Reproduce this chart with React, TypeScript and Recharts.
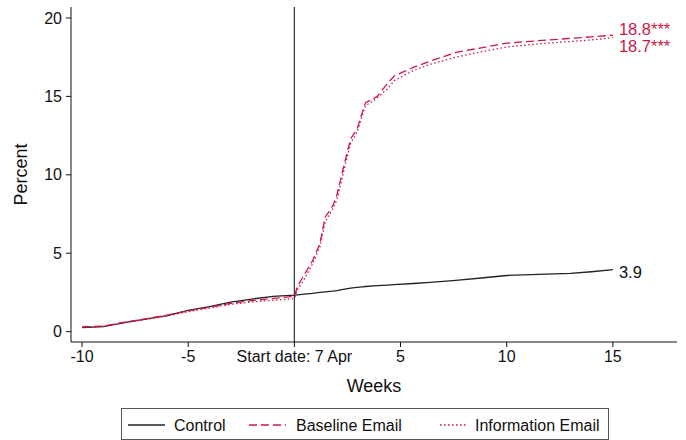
import { LineChart, Line, XAxis, YAxis, ReferenceLine } from "recharts";

const weeks = [
  -10, -9, -8, -7, -6, -5, -4, -3, -2, -1, 0, 0.15, 0.45, 0.85, 1.2, 1.45, 1.8, 2.0, 2.25, 2.5,
  2.65, 2.95, 3.2, 3.35, 3.9, 4.4, 4.7, 5.6, 6.4, 7.6, 8.8, 10, 11.5, 13, 14, 15,
];
const control = [
  0.26, 0.32, 0.57, 0.8, 1.02, 1.35, 1.6, 1.88, 2.08, 2.25, 2.33, 2.35, 2.39, 2.44, 2.5, 2.53,
  2.58, 2.62, 2.68, 2.74, 2.77, 2.82, 2.86, 2.88, 2.93, 2.97, 3.0, 3.07, 3.14, 3.27, 3.42, 3.58,
  3.65, 3.72, 3.82, 3.95,
];
const baselineEmail = [
  0.3, 0.35, 0.6, 0.82, 1.05, 1.32, 1.56, 1.8, 1.98, 2.12, 2.25, 2.9, 3.6, 4.5, 5.6, 7.3, 8.0,
  8.7, 10.1, 11.5, 12.3, 12.9, 14.0, 14.6, 15.0, 15.85, 16.3, 16.85, 17.25, 17.8, 18.1, 18.4,
  18.55, 18.7, 18.8, 18.9,
];
const informationEmail = [
  0.28, 0.33, 0.58, 0.78, 1.0, 1.27, 1.5, 1.74, 1.9, 2.0, 2.1, 2.7, 3.3, 4.3, 5.4, 7.0, 7.8, 8.4,
  9.8, 11.2, 12.0, 12.7, 13.8, 14.4, 14.9, 15.5, 16.0, 16.65, 17.05, 17.5, 17.85, 18.15, 18.35,
  18.5, 18.6, 18.75,
];
const xTicks = [-10, -5, 0, 5, 10, 15];
const yTicks = [0, 5, 10, 15, 20];
const endLabels = { control: "3.9", baseline: "18.8***", info: "18.7***" };

const data = weeks.map((w, i) => ({
  week: w,
  control: control[i],
  baseline: baselineEmail[i],
  info: informationEmail[i],
}));

const RED = "#cc1744";
const FONT = "'Liberation Sans', Arial, Helvetica, sans-serif";

// only the last point gets a value label
function endLabel(text: string, color: string, dy: number) {
  return (props: any) => {
    if (props.index !== data.length - 1) return null;
    return (
      <text
        x={props.x + 6}
        y={props.y + dy}
        fill={color}
        fontSize={16.5}
        fontFamily={FONT}
        dominantBaseline="central"
      >
        {text}
      </text>
    );
  };
}

function Legend() {
  const items = [
    { name: "Control", color: "#222", dash: undefined, x1: 128, x2: 165, tx: 174 },
    { name: "Baseline Email", color: RED, dash: "8 4", x1: 249, x2: 286, tx: 296 },
    { name: "Information Email", color: RED, dash: "1.5 2.5", x1: 440, x2: 468, tx: 475 },
  ];
  return (
    <svg
      width={686}
      height={40}
      style={{ position: "absolute", left: 0, top: 402 }}
    >
      <rect x={121.5} y={6.5} width={487} height={31} fill="#fff" stroke="#555" />
      {items.map((it) => (
        <g key={it.name}>
          <line
            x1={it.x1}
            x2={it.x2}
            y1={23}
            y2={23}
            stroke={it.color}
            strokeWidth={1.3}
            strokeDasharray={it.dash}
          />
          <text
            x={it.tx}
            y={23}
            fontSize={16}
            fontFamily={FONT}
            fill="#111"
            dominantBaseline="central"
          >
            {it.name}
          </text>
        </g>
      ))}
    </svg>
  );
}

export default function App() {
  const tickStyle = { fontSize: 16, fontFamily: FONT, fill: "#111" };
  return (
    <div style={{ position: "absolute", left: 0, top: 0, width: 686, height: 440, background: "#fff" }}>
      <LineChart
        width={686}
        height={440}
        data={data}
        margin={{ top: 7, right: 9, left: 0, bottom: 48 }}
      >
        <XAxis
          dataKey="week"
          type="number"
          domain={[-10.52, 18.02]}
          ticks={xTicks}
          tickFormatter={(v: number) => (v === 0 ? "Start date: 7 Apr" : String(v))}
          tick={tickStyle}
          tickSize={5}
          tickMargin={4}
          height={50}
          stroke="#111"
          allowDataOverflow
          label={{
            value: "Weeks",
            position: "insideBottom",
            offset: 0,
            style: { fontSize: 18, fontFamily: FONT, fill: "#111" },
          }}
        />
        <YAxis
          type="number"
          domain={[-0.66, 20.7]}
          ticks={yTicks}
          tick={tickStyle}
          tickSize={5}
          tickMargin={4}
          width={71}
          stroke="#111"
          allowDataOverflow
          label={{
            value: "Percent",
            angle: -90,
            position: "center",
            dx: -15,
            style: { fontSize: 18, fontFamily: FONT, fill: "#111", textAnchor: "middle" },
          }}
        />
        <ReferenceLine x={0} stroke="#333" strokeWidth={1.2} />
        <Line
          dataKey="control"
          stroke="#222"
          strokeWidth={1.3}
          dot={false}
          isAnimationActive={false}
          label={endLabel(endLabels.control, "#111", 2)}
        />
        <Line
          dataKey="baseline"
          stroke={RED}
          strokeWidth={1.3}
          strokeDasharray="8 4"
          dot={false}
          isAnimationActive={false}
          label={endLabel(endLabels.baseline, RED, -6)}
        />
        <Line
          dataKey="info"
          stroke={RED}
          strokeWidth={1.3}
          strokeDasharray="1.5 2.5"
          dot={false}
          isAnimationActive={false}
          label={endLabel(endLabels.info, RED, 8)}
        />
      </LineChart>
      <Legend />
    </div>
  );
}
